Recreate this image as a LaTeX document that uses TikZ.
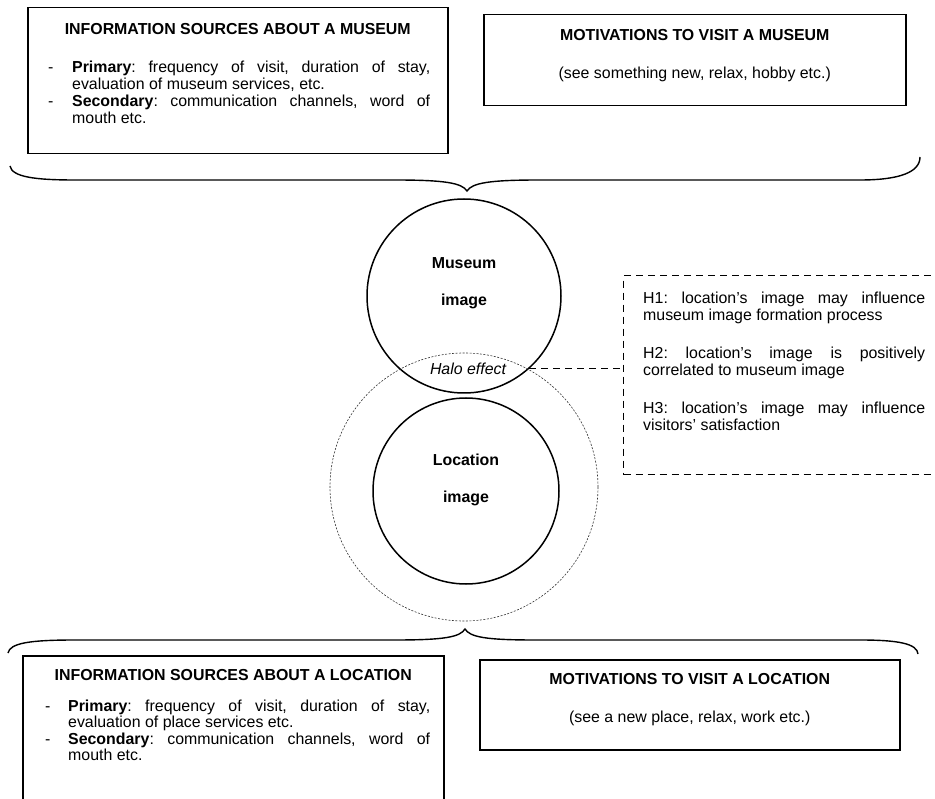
\documentclass[tikz,border=0pt]{standalone}
\usepackage{fontspec}
\setmainfont{Liberation Sans}
\usetikzlibrary{positioning}

\newcommand{\dashitem}[2][24pt]{\hangindent=#1\hangafter=1\noindent\makebox[#1][l]{-}#2\par}

\begin{document}
\frenchspacing
\begin{tikzpicture}[
    x=1pt, y=-1pt,
    % Define styles for the boxes, circles and texts
        font=\fontsize{15.9}{17}\selectfont,
        framebox/.style={draw, rectangle, line width=1.5pt, inner sep=0pt, anchor=north west},
        hypframe/.style={draw, rectangle, line width=1.4pt, dash pattern=on 7pt off 5pt, inner sep=0pt, anchor=north west},
        heading/.style={font=\fontsize{15.9}{17}\selectfont\bfseries, inner sep=0pt, anchor=north},
        plaintext/.style={inner sep=0pt, anchor=north},
        dashlist/.style={align=justify, inner sep=0pt},
        imagecircle/.style={draw, circle, line width=1.5pt, inner sep=0pt},
        imagetext/.style={align=center, font=\fontsize{15.9}{17}\selectfont\bfseries, inner sep=0pt},
        halo/.style={draw=black!80, circle, line width=0.6pt, dash pattern=on 2pt off 1.5pt, inner sep=0pt},
        bracepath/.style={line width=1.4pt},
        link/.style={line width=1.4pt, dash pattern=on 7pt off 5pt}
    ]

        \useasboundingbox (0,0) rectangle (935,799);
        \clip (0,0) rectangle (935,799);

        % Museum side
        \node[framebox, minimum width=420pt, minimum height=146pt] (musinfo) at (27,7) {};
        \node[heading, below=16.6pt of musinfo.north] (musinfohead) {INFORMATION SOURCES ABOUT A MUSEUM};
        \node[dashlist, text width=382pt, below right=53.3pt and 21pt of musinfo.north west] (musinfolist) {%
            \dashitem{\textbf{Primary}: frequency of visit, duration of stay,\linebreak evaluation of museum services, etc.}%
            \dashitem{\textbf{Secondary}: communication channels, word of\linebreak mouth etc.}};

        \node[framebox, minimum width=422pt, minimum height=91pt] (musmotiv) at (483,14) {};
        \node[heading, below=15.6pt of musmotiv.north] (musmotivhead) {MOTIVATIONS TO VISIT A MUSEUM};
        \node[plaintext, below=25.4pt of musmotivhead] (musmotivtext) {(see something new, relax, hobby etc.)};

        \draw[bracepath] (10,166) .. controls (12,177) and (35,180) .. (75,180) -- (395,180)
            .. controls (445,180) and (462,183) .. (467,191)
            .. controls (472,183) and (489,180) .. (539,180) -- (860,180)
            .. controls (900,180) and (920,172) .. (920,157);

        % Image circles
        \node[imagecircle, minimum size=194pt] (musimg) at (464,296) {};
        \node[imagetext, yshift=12.5pt] (musimgtext) at (musimg) {Museum\\[20pt]image};

        \node[halo, minimum size=268pt] (halocirc) at (464,487) {};
        \node[imagecircle, minimum size=186pt] (locimg) at (466,491) {};
        \node[imagetext, yshift=10.6pt] (locimgtext) at (locimg) {Location\\[20pt]image};

        \node[font=\fontsize{15.9}{17}\selectfont\itshape, inner sep=0pt, anchor=base] (halotext) at (468,375) {Halo effect};

        % Hypotheses
        \node[hypframe, minimum width=330pt, minimum height=199pt] (hypbox) at (623,275) {};
        \node[dashlist, text width=282pt, below right=16.4pt and 20pt of hypbox.north west] (hyptext) {%
            H1: location’s image may influence\linebreak museum image formation process\par\vskip21pt
            H2: location’s image is positively\linebreak correlated to museum image\par\vskip21pt
            H3: location’s image may influence\linebreak visitors’ satisfaction};

        \draw[link] (musimg.-48) -- (musimg.-48 -| hypbox.west);

        % Location side
        \draw[bracepath] (8,653) .. controls (10,643) and (30,640) .. (75,640) -- (395,640)
            .. controls (445,640) and (460,637) .. (465,629)
            .. controls (470,637) and (485,640) .. (535,640) -- (860,640)
            .. controls (900,640) and (917,644) .. (918,654);

        \node[framebox, minimum width=421pt, minimum height=170pt] (locinfo) at (22,655) {};
        \node[heading, below=14.6pt of locinfo.north] (locinfohead) {INFORMATION SOURCES ABOUT A LOCATION};
        \node[dashlist, text width=385pt, font=\fontsize{15.9}{16.5}\selectfont, below right=44.3pt and 23pt of locinfo.north west] (locinfolist) {%
            \dashitem[23pt]{\textbf{Primary}: frequency of visit, duration of stay,\linebreak evaluation of place services etc.}%
            \dashitem[23pt]{\textbf{Secondary}: communication channels, word of\linebreak mouth etc.}};

        \node[framebox, minimum width=420pt, minimum height=90pt] (locmotiv) at (479,659) {};
        \node[heading, below=14.6pt of locmotiv.north] (locmotivhead) {MOTIVATIONS TO VISIT A LOCATION};
        \node[plaintext, below=25.4pt of locmotivhead] (locmotivtext) {(see a new place, relax, work etc.)};
    \end{tikzpicture}
\end{document}
